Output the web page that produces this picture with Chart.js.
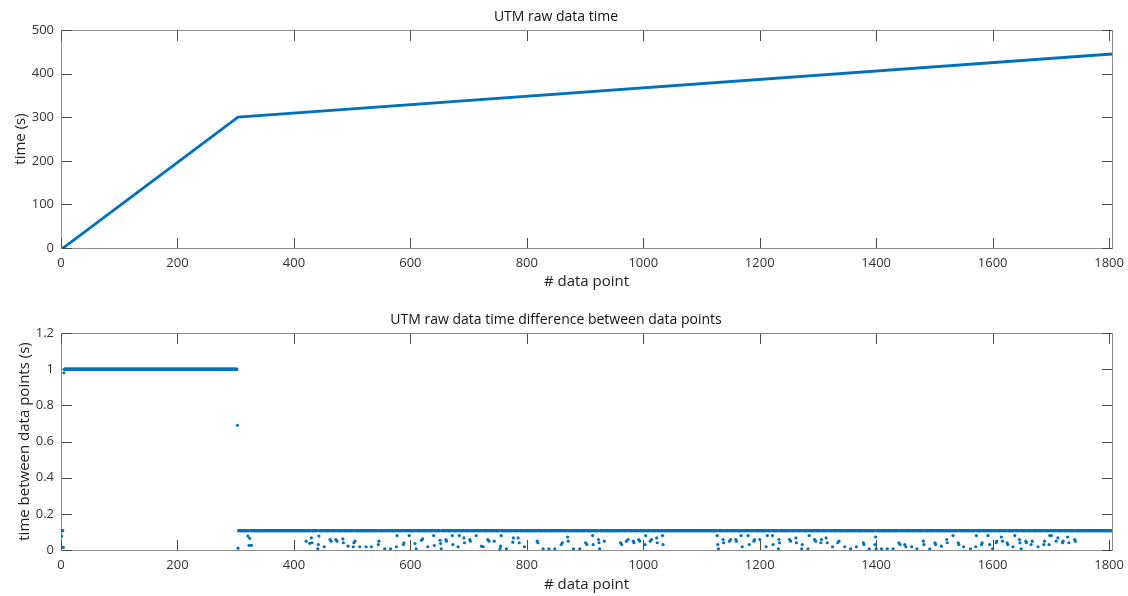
<!DOCTYPE html>
<html>
<head>
<meta charset="utf-8">
<script src="https://cdn.jsdelivr.net/npm/chart.js@4"></script>
<style>
  html, body { margin: 0; padding: 0; background: #fff; }
  canvas { display: block; }
</style>
</head>
<body>
<canvas id="timeChart" width="1128" height="298"></canvas>
<canvas id="diffChart" width="1128" height="298"></canvas>
<script>
// tick labels
const xTicks = [0, 200, 400, 600, 800, 1000, 1200, 1400, 1600, 1800];
const timeTicks = [0, 100, 200, 300, 400, 500];
const diffTicks = [0, 0.2, 0.4, 0.6, 0.8, 1, 1.2];

// top plot: time of each data point (line corners)
const timeIdx = [0, 4, 304, 1805];
const timeSec = [0, 0.3, 300, 445];

// bottom plot: the two dense rows of points, [first index, last index, seconds]
const diffRuns = [
  [6, 302, 1.0],
  [305, 1805, 0.107],
];
// bottom plot: single points that sit off those rows, [index, seconds]
const diffPoints = [
  [1, 0.077], [2, 0.107], [3, 0.107], [4, 0.015], [5, 0.98], [303, 0.69], [304, 0.01],
  [321, 0.077], [323, 0.026], [324, 0.065], [327, 0.026],
  [421, 0.049], [427, 0.037], [430, 0.067], [431, 0.040], [441, 0.007], [442, 0.030], [443, 0.077],
  [452, 0.018], [462, 0.058], [464, 0.049], [472, 0.058], [474, 0.049], [484, 0.061], [485, 0.040],
  [493, 0.021], [502, 0.018], [503, 0.040], [505, 0.049], [513, 0.018], [524, 0.018], [533, 0.018],
  [545, 0.030], [546, 0.049], [556, 0.007], [566, 0.007], [576, 0.018], [577, 0.080], [588, 0.030],
  [589, 0.040], [598, 0.080], [608, 0.036], [610, 0.007], [619, 0.054], [621, 0.061], [630, 0.018],
  [640, 0.080], [641, 0.025], [651, 0.054], [652, 0.036], [653, 0.007], [661, 0.058], [662, 0.049],
  [672, 0.080], [673, 0.030], [682, 0.018], [684, 0.080], [692, 0.067], [693, 0.040], [702, 0.058],
  [703, 0.049], [713, 0.080], [722, 0.021], [725, 0.018], [733, 0.058], [735, 0.049], [744, 0.049],
  [754, 0.007], [755, 0.021], [756, 0.080], [765, 0.007], [776, 0.043], [777, 0.067], [785, 0.067],
  [787, 0.040], [796, 0.018], [818, 0.049], [819, 0.040], [828, 0.007], [838, 0.007], [848, 0.007],
  [859, 0.030], [861, 0.040], [870, 0.072], [871, 0.049], [880, 0.007], [891, 0.007], [901, 0.040],
  [903, 0.030], [913, 0.080], [914, 0.030], [923, 0.058], [924, 0.040], [925, 0.007], [933, 0.049],
  [961, 0.040], [963, 0.030], [971, 0.049], [974, 0.058], [983, 0.049], [984, 0.040], [992, 0.058],
  [994, 0.049], [1003, 0.030], [1004, 0.080], [1012, 0.049], [1014, 0.058], [1023, 0.067], [1024, 0.040],
  [1033, 0.080], [1034, 0.030], [1127, 0.080], [1128, 0.030], [1129, 0.007], [1137, 0.058], [1138, 0.040],
  [1148, 0.049], [1150, 0.058], [1159, 0.058], [1160, 0.049], [1168, 0.080], [1170, 0.018], [1180, 0.080],
  [1182, 0.030], [1190, 0.049], [1191, 0.058], [1200, 0.058], [1211, 0.018], [1213, 0.080], [1222, 0.080],
  [1223, 0.030], [1232, 0.007], [1233, 0.058], [1234, 0.040], [1251, 0.058], [1253, 0.049], [1262, 0.067],
  [1263, 0.040], [1272, 0.007], [1273, 0.030], [1283, 0.007], [1285, 0.080], [1294, 0.058], [1296, 0.049],
  [1305, 0.040], [1306, 0.058], [1314, 0.067], [1316, 0.040], [1325, 0.018], [1334, 0.040], [1336, 0.049],
  [1346, 0.018], [1356, 0.007], [1366, 0.018], [1378, 0.040], [1379, 0.030], [1388, 0.007], [1398, 0.030],
  [1399, 0.072], [1400, 0.007], [1409, 0.007], [1419, 0.007], [1429, 0.007], [1439, 0.040], [1441, 0.030],
  [1449, 0.030], [1451, 0.018], [1461, 0.018], [1470, 0.007], [1481, 0.049], [1482, 0.030], [1492, 0.007],
  [1501, 0.040], [1502, 0.030], [1512, 0.021], [1521, 0.058], [1522, 0.040], [1532, 0.080], [1541, 0.040],
  [1542, 0.030], [1550, 0.018], [1562, 0.007], [1571, 0.018], [1572, 0.080], [1581, 0.030], [1582, 0.040],
  [1592, 0.080], [1595, 0.030], [1600, 0.007], [1606, 0.040], [1607, 0.049], [1615, 0.072], [1617, 0.049],
  [1625, 0.040], [1626, 0.030], [1635, 0.018], [1638, 0.080], [1646, 0.058], [1647, 0.040], [1649, 0.007],
  [1657, 0.049], [1658, 0.040], [1666, 0.030], [1668, 0.049], [1678, 0.018], [1688, 0.030], [1689, 0.049],
  [1697, 0.030], [1698, 0.080], [1701, 0.080], [1709, 0.049], [1712, 0.067], [1720, 0.040], [1721, 0.049],
  [1729, 0.072], [1731, 0.040], [1741, 0.058], [1742, 0.049],
];

const BLUE = '#0072BD';
const FONT = "'Open Sans', 'Noto Sans', sans-serif";
const TICK_LEN = 10;

// unpack the runs, then let the single points take their index
const diffMap = new Map();
diffRuns.forEach(([first, last, sec]) => {
  for (let i = first; i <= last; i++) diffMap.set(i, sec);
});
diffPoints.forEach(([i, sec]) => diffMap.set(i, sec));
const diffData = [...diffMap.entries()].map(([x, y]) => ({ x, y }));

const timeData = timeIdx.map((x, i) => ({ x, y: timeSec[i] }));

// MATLAB style box with ticks pointing inwards on all four sides
const boxAxes = {
  id: 'boxAxes',
  beforeDatasetsDraw(chart) {
    const { ctx, chartArea: a, scales: { x, y } } = chart;
    ctx.save();
    ctx.lineWidth = 1;
    ctx.strokeStyle = '#8c8c8c';
    ctx.strokeRect(a.left + 0.5, a.top + 0.5, a.right - a.left, a.bottom - a.top);
    ctx.strokeStyle = '#4a4a4a';
    ctx.beginPath();
    x.ticks.forEach((t) => {
      const px = Math.round(x.getPixelForValue(t.value)) + 0.5;
      ctx.moveTo(px, a.bottom);
      ctx.lineTo(px, a.bottom - TICK_LEN);
      ctx.moveTo(px, a.top + 1);
      ctx.lineTo(px, a.top + 1 + TICK_LEN);
    });
    y.ticks.forEach((t) => {
      const py = Math.round(y.getPixelForValue(t.value)) + 0.5;
      ctx.moveTo(a.left + 1, py);
      ctx.lineTo(a.left + 1 + TICK_LEN, py);
      ctx.moveTo(a.right, py);
      ctx.lineTo(a.right - TICK_LEN, py);
    });
    ctx.stroke();
    ctx.restore();
  },
};

function makeOptions(cfg) {
  return {
    responsive: false,
    animation: false,
    events: [],
    layout: { padding: { left: 0, right: 16, top: 0, bottom: 0 } },
    plugins: {
      legend: { display: false },
      tooltip: { enabled: false },
      title: {
        display: true,
        text: cfg.title,
        color: '#111',
        font: { family: FONT, size: 14, weight: 'normal' },
        padding: cfg.titlePad,
      },
    },
    scales: {
      x: {
        type: 'linear',
        min: 0,
        max: 1805,
        afterBuildTicks: (s) => { s.ticks = xTicks.map((v) => ({ value: v })); },
        afterFit: (s) => {
          s.height = cfg.xHeight;
          // the labels fit in the layout padding, keep the plot box where it is
          s.paddingLeft = 0;
          s.paddingRight = 0;
        },
        grid: { display: false, drawTicks: false },
        border: { display: false },
        ticks: {
          padding: 7,
          maxRotation: 0,
          autoSkip: false,
          color: '#333',
          font: { family: FONT, size: 13 },
          callback: (v) => String(v),
        },
        title: {
          display: true,
          text: '# data point',
          color: '#222',
          font: { family: FONT, size: 15 },
          padding: { top: 0, bottom: cfg.xTitlePad },
        },
      },
      y: {
        type: 'linear',
        min: cfg.yTicks[0],
        max: cfg.yTicks[cfg.yTicks.length - 1],
        afterBuildTicks: (s) => { s.ticks = cfg.yTicks.map((v) => ({ value: v })); },
        afterFit: (s) => {
          s.width = 61;
          s.paddingTop = 0;
          s.paddingBottom = 0;
        },
        grid: { display: false, drawTicks: false },
        border: { display: false },
        ticks: {
          padding: 7,
          autoSkip: false,
          color: '#333',
          font: { family: FONT, size: 13 },
          callback: (v) => String(Number(v.toFixed(1))),
        },
        title: {
          display: true,
          text: cfg.yTitle,
          color: '#222',
          font: { family: FONT, size: 15 },
          padding: { top: cfg.yTitlePad, bottom: 0 },
        },
      },
    },
  };
}

new Chart(document.getElementById('timeChart'), {
  type: 'line',
  data: {
    datasets: [{
      data: timeData,
      borderColor: BLUE,
      borderWidth: 2.8,
      pointRadius: 0,
      tension: 0,
    }],
  },
  options: makeOptions({
    title: 'UTM raw data time',
    titlePad: { top: 8.6, bottom: 4.6 },
    xHeight: 50,
    xTitlePad: 7,
    yTicks: timeTicks,
    yTitle: 'time (s)',
    yTitlePad: 12,
  }),
  plugins: [boxAxes],
});

new Chart(document.getElementById('diffChart'), {
  type: 'scatter',
  data: {
    datasets: [{
      data: diffData,
      backgroundColor: BLUE,
      pointBackgroundColor: BLUE,
      pointBorderWidth: 0,
      pointRadius: 1.6,
    }],
  },
  options: makeOptions({
    title: 'UTM raw data time difference between data points',
    titlePad: { top: 13.6, bottom: 4.6 },
    xHeight: 46,
    xTitlePad: 2,
    yTicks: diffTicks,
    yTitle: 'time between data points (s)',
    yTitlePad: 16,
  }),
  plugins: [boxAxes],
});
</script>
</body>
</html>
